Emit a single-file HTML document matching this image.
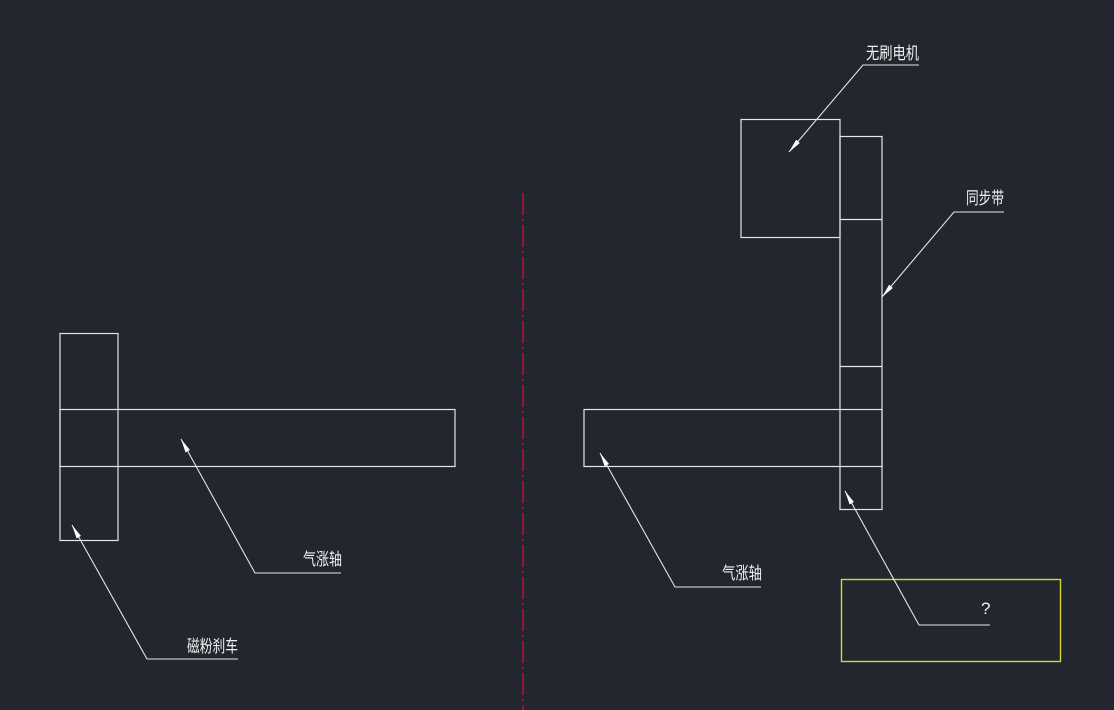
<!DOCTYPE html>
<html><head><meta charset="utf-8"><style>
html,body{margin:0;padding:0;background:#22262e;}
svg{display:block}
text{font-family:"Liberation Sans","Noto Sans CJK SC",sans-serif;fill:#f0f0f0;font-size:17px}
</style></head><body>
<svg width="1114" height="710" viewBox="0 0 1114 710">
<defs>
<marker id="a" viewBox="0 0 14 5" refX="0" refY="2.5" markerWidth="14" markerHeight="5" markerUnits="userSpaceOnUse" orient="auto">
<path d="M0,2.5 L14,0 L14,5 z" fill="#fff"/></marker>
</defs>
<g stroke="#e6e6e6" stroke-width="1.2" fill="none">
<rect x="60" y="333.5" width="58" height="207"/>
<rect x="60" y="409.5" width="395" height="57"/>
<rect x="741" y="119.5" width="99" height="118"/>
<rect x="840" y="136.5" width="42" height="373"/>
<line x1="840" y1="219.5" x2="882" y2="219.5"/>
<line x1="840" y1="366.5" x2="882" y2="366.5"/>
<rect x="584" y="409.5" width="298" height="57"/>
</g>
<line x1="523" y1="193" x2="523" y2="710" stroke="#d0102e" stroke-width="1.3" stroke-dasharray="22,4,2,4"/>
<rect x="841.5" y="579.5" width="219" height="82" fill="none" stroke="#d6d62a" stroke-width="1.4"/>
<g stroke="#e6e6e6" stroke-width="1.1" fill="none" marker-start="url(#a)">
<polyline points="181,439 255,573 341,573"/>
<polyline points="72,525 147,659 238,659"/>
<polyline points="789,152 863,65 919,65"/>
<polyline points="882,297 954,212 1004,212"/>
<polyline points="600,453 675,587 761,587"/>
<polyline points="845,491 919,625 990,625"/>
</g>
<text x="303" y="565" textLength="39" lengthAdjust="spacingAndGlyphs">气涨轴</text>
<text x="187" y="652" textLength="51" lengthAdjust="spacingAndGlyphs">磁粉刹车</text>
<text x="866" y="59" textLength="53" lengthAdjust="spacingAndGlyphs">无刷电机</text>
<text x="966" y="204" textLength="38" lengthAdjust="spacingAndGlyphs">同步带</text>
<text x="722" y="579" textLength="40" lengthAdjust="spacingAndGlyphs">气涨轴</text>
<text x="981" y="614" style="font-size:17px">?</text>
</svg>
</body></html>
